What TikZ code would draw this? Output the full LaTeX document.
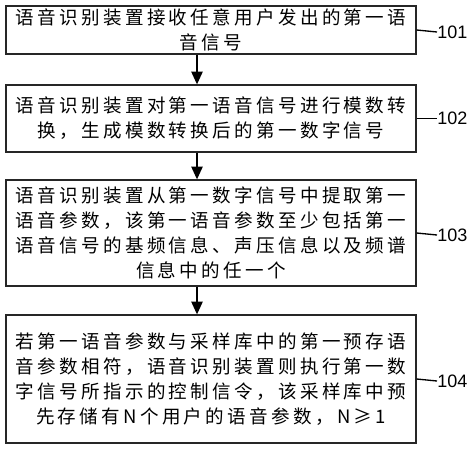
\documentclass[tikz,border=0pt]{standalone}
\usepackage{fontspec}
\usepackage{tikz}
\usetikzlibrary{arrows.meta}
\newfontfamily\cjk[LetterSpace=18]{Noto Sans CJK SC}
\newfontfamily\labfont{Liberation Sans}

\begin{document}
\begin{tikzpicture}[x=0.75pt,y=-0.75pt,
  box/.style={rectangle,draw=black!85,line width=1pt,minimum width=307.5pt,
    inner sep=0pt,align=center,font=\cjk\fontsize{13.9pt}{18.75pt}\selectfont},
  lab/.style={anchor=west,inner sep=0pt,font=\labfont\fontsize{13.5pt}{15pt}\selectfont},
  arr/.style={line width=1pt,-{Triangle[length=9.5pt,width=8.5pt]}}]
  \useasboundingbox (0,0) rectangle (473,450);
  \coordinate (ax) at (197,0);
  \node[box,minimum height=36pt]   (b1) at (211,30)    {语音识别装置接收任意用户发出的第一语\\音信号};
  \node[box,minimum height=50.25pt] (b2) at (211,118.5) {语音识别装置对第一语音信号进行模数转\\换，生成模数转换后的第一数字信号};
  \node[box,minimum height=79.5pt] (b3) at (211,233)   {语音识别装置从第一数字信号中提取第一\\语音参数，该第一语音参数至少包括第一\\语音信号的基频信息、声压信息以及频谱\\信息中的任一个};
  \node[box,minimum height=96pt]   (b4) at (211,379)   {若第一语音参数与采样库中的第一预存语\\音参数相符，语音识别装置则执行第一数\\字信号所指示的控制信令，该采样库中预\\先存储有N个用户的语音参数，N≥1};
  \draw[arr] (b1.south -| ax) -- (b2.north -| ax);
  \draw[arr] (b2.south -| ax) -- (b3.north -| ax);
  \draw[arr] (b3.south -| ax) -- (b4.north -| ax);

  \node[lab] (l1) at (437,32)    {101};
  \node[lab] (l2) at (437,118.5) {102};
  \node[lab] (l3) at (437,235)   {103};
  \node[lab] (l4) at (437,381)   {104};
  \draw[line width=1pt] (b1.east) -- (l1.west); \draw[line width=1pt] (b2.east) -- (l2.west);
  \draw[line width=1pt] (b3.east) -- (l3.west); \draw[line width=1pt] (b4.east) -- (l4.west);
\end{tikzpicture}
\end{document}
